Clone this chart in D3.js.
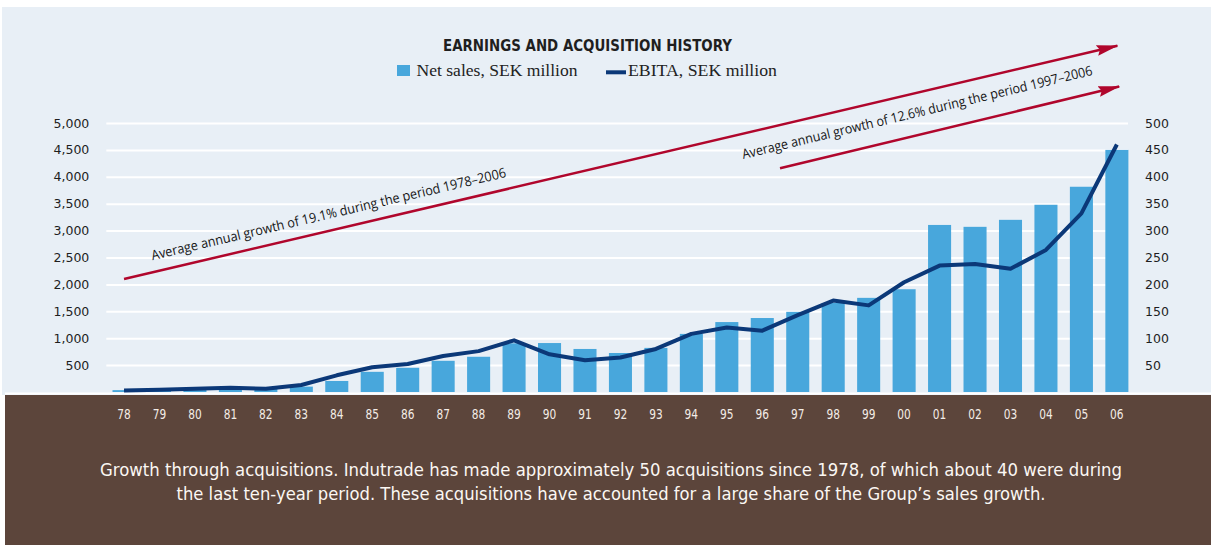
<!DOCTYPE html>
<html>
<head>
<meta charset="utf-8">
<script src="https://cdnjs.cloudflare.com/ajax/libs/d3/7.8.5/d3.min.js"></script>
<style>
  html, body { margin: 0; padding: 0; background: #ffffff; }
  svg { display: block; }
</style>
</head>
<body>
<div id="chart"></div>
<script>
// ---- data ----
var years = ["78", "79", "80", "81", "82", "83", "84", "85", "86", "87", "88", "89", "90", "91",
    "92", "93", "94", "95", "96", "97", "98", "99", "00", "01", "02", "03", "04", "05", "06"];
var netSales = [35, 45, 55, 65, 75, 100, 205, 375, 450, 580, 655, 905, 910, 800,
    725, 820, 1080, 1300, 1375, 1490, 1655, 1750, 1910, 3105, 3070, 3200, 3480, 3815, 4500];
var ebita = [3, 4, 6, 8, 6, 13, 31, 46, 52, 67, 76, 96, 70, 59,
    64, 80, 108, 120, 114, 143, 170, 161, 204, 235, 238, 229, 264, 332, 460];
var leftTicks = [500, 1000, 1500, 2000, 2500, 3000, 3500, 4000, 4500, 5000];
var rightTicks = [50, 100, 150, 200, 250, 300, 350, 400, 450, 500];

var title = "EARNINGS AND ACQUISITION HISTORY";
var legendLabels = ["Net sales, SEK million", "EBITA, SEK million"];
var growthNotes = [
    "Average annual growth of 19.1% during the period 1978\u20132006",
    "Average annual growth of 12.6% during the period 1997\u20132006"
];
// arrows in data units: [year index, net sales value]
var growthArrows = [
    {from: [0, 2100], to: [28.1, 6450], label: [0.8, 2450]},
    {from: [18.5, 4160], to: [28.15, 5690], label: [17.46, 4330]}
];
var caption = [
    "Growth through acquisitions. Indutrade has made approximately 50 acquisitions since 1978, of which about 40 were during",
    "the last ten-year period. These acquisitions have accounted for a large share of the Group\u2019s sales growth."
];

// ---- layout ----
var W = 1211, H = 545;
var plot = {left: 106.3, right: 1134.6, top: 123, bottom: 392};
var gridRight = 1128;

var svg = d3.select("#chart").append("svg")
    .attr("width", W)
    .attr("height", H);

//backgrounds
svg.append("rect")
    .attr("x", 2).attr("y", 7)
    .attr("width", W - 2).attr("height", 388)
    .attr("fill", "#e8eff6");
svg.append("rect")
    .attr("x", 5).attr("y", 395)
    .attr("width", W - 5).attr("height", H - 395)
    .attr("fill", "#5c453b");
svg.append("line")
    .attr("x1", 5).attr("x2", W)
    .attr("y1", 393.5).attr("y2", 393.5)
    .attr("stroke", "#ffffff")
    .attr("stroke-width", 2);

var x = d3.scaleBand()
    .domain(years)
    .range([plot.left, plot.right])
    .paddingInner(0.35)
    .paddingOuter(0.175);
var yL = d3.scaleLinear().domain([0, 5000]).range([plot.bottom, plot.top]);
var yR = d3.scaleLinear().domain([0, 500]).range([plot.bottom, plot.top]);

// fractional year index -> pixel
function xi(i) {
    return x(years[0]) + x.bandwidth() / 2 + i * x.step();
}

//grid
var grid = svg.append("g")
    .attr("transform", "translate(" + plot.left + ",0)")
    .call(d3.axisLeft(yL).tickValues(leftTicks).tickSize(-(gridRight - plot.left)).tickFormat(""));
grid.select(".domain").remove();
grid.selectAll("line").attr("stroke", "#ffffff").attr("stroke-width", 2);

//bars
svg.append("g").selectAll("rect")
    .data(netSales)
    .join("rect")
    .attr("x", (d, i) => x(years[i]))
    .attr("y", d => yL(d))
    .attr("width", x.bandwidth())
    .attr("height", d => yL(0) - yL(d))
    .attr("fill", "#48a7dc");

//ebita line
var line = d3.line()
    .x((d, i) => x(years[i]) + x.bandwidth() / 2)
    .y(d => yR(d));
svg.append("path")
    .datum(ebita)
    .attr("d", line)
    .attr("fill", "none")
    .attr("stroke", "#0b3878")
    .attr("stroke-width", 4)
    .attr("stroke-linejoin", "round");

//axes
var leftAxis = svg.append("g")
    .attr("transform", "translate(" + plot.left + ",0)")
    .call(d3.axisLeft(yL).tickValues(leftTicks).tickSize(0).tickPadding(17).tickFormat(d3.format(",")));
var rightAxis = svg.append("g")
    .attr("transform", "translate(" + gridRight + ",0)")
    .call(d3.axisRight(yR).tickValues(rightTicks).tickSize(0).tickPadding(17));
[leftAxis, rightAxis].forEach(function(a) {
    a.select(".domain").remove();
    a.selectAll("text")
        .attr("font-family", "'DejaVu Sans', Verdana, sans-serif")
        .attr("font-size", 12.5)
        .attr("fill", "#1e1e1e");
});

var xAxis = svg.append("g")
    .attr("transform", "translate(0,395)")
    .call(d3.axisBottom(x).tickSize(0).tickPadding(14));
xAxis.select(".domain").remove();
xAxis.selectAll("text")
    .attr("font-family", "'DejaVu Sans', sans-serif")
    .attr("font-size", 14)
    .attr("textLength", 13.5)
    .attr("lengthAdjust", "spacingAndGlyphs")
    .attr("fill", "#f3ece6");

//title
svg.append("text")
    .attr("x", 587.5)
    .attr("y", 51)
    .attr("text-anchor", "middle")
    .attr("font-family", "'DejaVu Sans', sans-serif")
    .attr("font-weight", "bold")
    .attr("font-size", 15.5)
    .attr("textLength", 289)
    .attr("lengthAdjust", "spacingAndGlyphs")
    .attr("fill", "#1f1f1f")
    .text(title);

//legend
var legend = svg.append("g").attr("id", "legend");
legend.append("rect")
    .attr("x", 397).attr("y", 65)
    .attr("width", 13).attr("height", 11)
    .attr("fill", "#48a7dc");
legend.append("text")
    .attr("x", 416.5).attr("y", 76)
    .attr("font-family", "'Liberation Serif', 'Times New Roman', serif")
    .attr("font-size", 16.5)
    .attr("textLength", 161)
    .attr("lengthAdjust", "spacingAndGlyphs")
    .attr("fill", "#222")
    .text(legendLabels[0]);
legend.append("line")
    .attr("x1", 606).attr("x2", 626)
    .attr("y1", 72.3).attr("y2", 72.3)
    .attr("stroke", "#0b3878")
    .attr("stroke-width", 4);
legend.append("text")
    .attr("x", 628).attr("y", 76)
    .attr("font-family", "'Liberation Serif', 'Times New Roman', serif")
    .attr("font-size", 16.5)
    .attr("textLength", 149)
    .attr("lengthAdjust", "spacingAndGlyphs")
    .attr("fill", "#222")
    .text(legendLabels[1]);

//growth arrows
svg.append("defs").append("marker")
    .attr("id", "redArrow")
    .attr("markerUnits", "userSpaceOnUse")
    .attr("markerWidth", 22)
    .attr("markerHeight", 14)
    .attr("viewBox", "0 -7 22 14")
    .attr("refX", 21)
    .attr("refY", 0)
    .attr("orient", "auto")
    .append("path")
    .attr("d", "M0,-5.5 L22,0 L0,5.5 L3,0 Z")
    .style("fill", "#b0062c");

growthArrows.forEach(function(a, k) {
    var x1 = xi(a.from[0]), y1 = yL(a.from[1]);
    var x2 = xi(a.to[0]), y2 = yL(a.to[1]);
    svg.append("line")
        .attr("x1", x1).attr("y1", y1)
        .attr("x2", x2 - 3).attr("y2", y2 + 0.7)
        .attr("stroke", "#b0062c")
        .attr("stroke-width", 2.5)
        .attr("marker-end", "url(#redArrow)");
    var angle = Math.atan2(y2 - y1, x2 - x1) * 180 / Math.PI;
    var lx = xi(a.label[0]), ly = yL(a.label[1]);
    svg.append("text")
        .attr("transform", "translate(" + lx + "," + ly + ") rotate(" + angle + ")")
        .attr("font-family", "'Open Sans', sans-serif")
        .attr("font-size", 13.5)
        .attr("textLength", k === 0 ? 364 : 360)
        .attr("lengthAdjust", "spacingAndGlyphs")
        .attr("fill", "#161616")
        .text(growthNotes[k]);
});

//caption
svg.append("g").selectAll("text")
    .data(caption)
    .join("text")
    .attr("x", 611)
    .attr("y", (d, i) => 476 + i * 24)
    .attr("text-anchor", "middle")
    .attr("font-family", "'DejaVu Sans', sans-serif")
    .attr("font-weight", 500)
    .attr("font-size", 17.5)
    .attr("textLength", (d, i) => i === 0 ? 1022 : 869)
    .attr("lengthAdjust", "spacingAndGlyphs")
    .attr("fill", "#fbf7f3")
    .text(d => d);
</script>
</body>
</html>
